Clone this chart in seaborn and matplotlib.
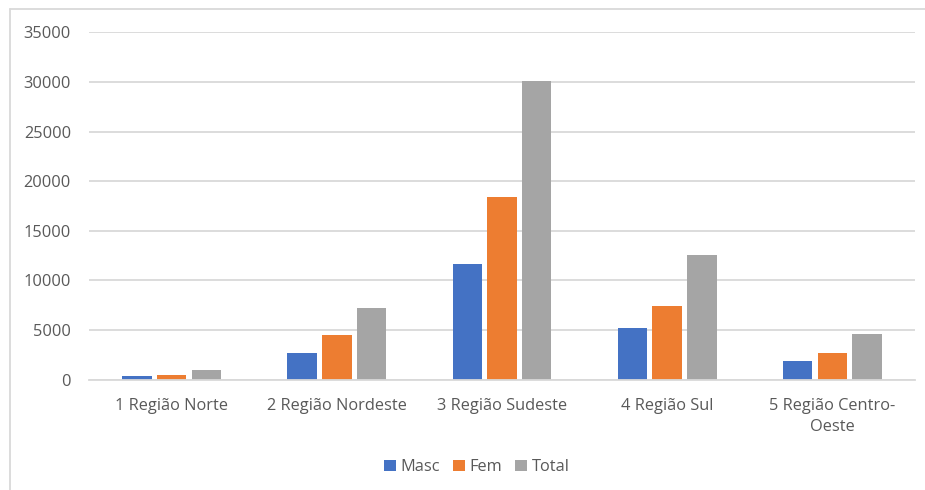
import matplotlib
matplotlib.use("Agg")
import matplotlib.pyplot as plt
import seaborn as sns
import pandas as pd
from matplotlib.lines import Line2D

categories = ["1 Região Norte", "2 Região Nordeste", "3 Região Sudeste",
              "4 Região Sul", "5 Região Centro-\nOeste"]
masc = [370, 2720, 11640, 5200, 1880]
fem = [470, 4530, 18410, 7410, 2680]
total = [970, 7210, 30100, 12540, 4600]
series = ["Masc", "Fem", "Total"]
colors = ["#4472C4", "#ED7D31", "#A5A5A5"]
yticks = [0, 5000, 10000, 15000, 20000, 25000, 30000, 35000]

rows = []
for name, vals in zip(series, [masc, fem, total]):
    for c, v in zip(categories, vals):
        rows.append({"Região": c, "Série": name, "Valor": v})
df = pd.DataFrame(rows)

sns.set_theme(style="white")
plt.rcParams["font.family"] = ["Open Sans", "DejaVu Sans"]

fig = plt.figure(figsize=(9.25, 4.90), dpi=100)
ax = fig.add_axes([89 / 925, 1 - 379.7 / 490, (915 - 89) / 925, (379.7 - 32.3) / 490])

sns.barplot(data=df, x="Região", y="Valor", hue="Série", order=categories,
            hue_order=series, palette=colors, width=0.63, gap=0.15,
            saturation=1, linewidth=0, ax=ax, legend=True)

ax.set_ylim(0, 35000)
ax.set_yticks(yticks)
ax.set_yticklabels([str(t) for t in yticks])
ax.set_xlabel("")
ax.set_ylabel("")
ax.grid(axis="y", color="#D9D9D9", linewidth=1.3)
ax.set_axisbelow(True)
for s in ["top", "right", "left"]:
    ax.spines[s].set_visible(False)
ax.spines["bottom"].set_color("#D9D9D9")
ax.spines["bottom"].set_linewidth(1.3)
ax.tick_params(axis="both", length=0, labelsize=11.8, colors="#595959")
ax.tick_params(axis="y", pad=13)
ax.tick_params(axis="x", pad=13)
for lbl in ax.get_xticklabels():
    lbl.set_linespacing(1.45)

handles, labels = ax.get_legend_handles_labels()
ax.legend_.remove()
fig.legend(handles, labels, loc="center", bbox_to_anchor=(477 / 925, 1 - 467 / 490),
           ncol=3, frameon=False, fontsize=11.8, handlelength=0.7, handleheight=0.7,
           handletextpad=0.3, columnspacing=0.8, labelcolor="#595959")

fig.add_artist(Line2D([10 / 925, 1], [1 - 9 / 490, 1 - 9 / 490], color="#D9D9D9",
                      linewidth=1.3, transform=fig.transFigure))
fig.add_artist(Line2D([10 / 925, 10 / 925], [0, 1 - 9 / 490], color="#D9D9D9",
                      linewidth=1.3, transform=fig.transFigure))

fig.savefig("out.png", dpi=100)
